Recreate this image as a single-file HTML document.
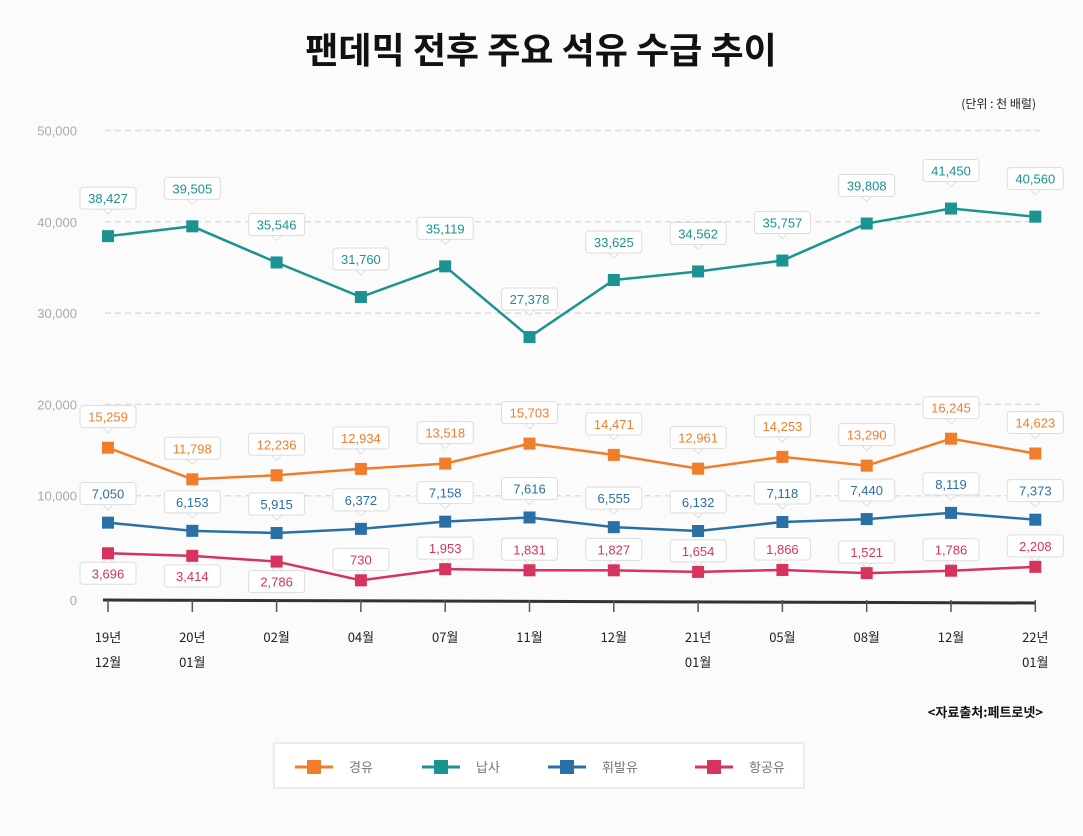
<!DOCTYPE html>
<html><head><meta charset="utf-8">
<style>
body{margin:0;background:#fbfbfb;font-family:"Liberation Sans","Noto Sans CJK KR",sans-serif;}
#wrap{position:relative;width:1083px;height:836px;overflow:hidden;background:#fbfbfb}
</style></head><body>
<div id="wrap">
<svg id="chart" width="1083" height="836" style="position:absolute;left:0;top:0">
<text x="541" y="63" text-anchor="middle" font-size="36" font-weight="bold" fill="#111" font-family="Noto Sans CJK KR, sans-serif">팬데믹 전후 주요 석유 수급 추이</text>
<text x="1036" y="108" text-anchor="end" font-size="12" fill="#222" font-family="Noto Sans CJK KR, sans-serif">(단위 : 천 배럴)</text>
<text x="1043" y="717" text-anchor="end" font-size="13" font-weight="bold" fill="#111" font-family="Noto Sans CJK KR, sans-serif">&lt;자료출처:페트로넷&gt;</text>
<g id="grid"></g><g id="labels"></g><g id="series"></g><g id="xaxis"></g>
<rect x="274" y="743" width="530" height="45" fill="#fff" stroke="#ddd"/>
<g id="legend"></g>
</svg>
</div>
<script>
const categories=[["19년","12월"],["20년","01월"],["02월"],["04월"],["07월"],["11월"],["12월"],["21년","01월"],["05월"],["08월"],["12월"],["22년","01월"]];
const seriesNames=["경유","납사","휘발유","항공유"];
const diesel=[15259,11798,12236,12934,13518,15703,14471,12961,14253,13290,16245,14623];
const naphtha=[38427,39505,35546,31760,35119,27378,33625,34562,35757,39808,41450,40560];
const gasoline=[7050,6153,5915,6372,7158,7616,6555,6132,7118,7440,8119,7373];
const jet=[3696,3414,2786,730,1953,1831,1827,1654,1866,1521,1786,2208];
const yTicks=[0,10000,20000,30000,40000,50000];
const jetBelow=[true,true,true,false,false,false,false,false,false,false,false,false];

const ns="http://www.w3.org/2000/svg";
const colors=["#f07d2a","#1a9391","#2a6fa6","#d6335f"];
const offs=[-31,-38,-29,-21];
const data=[diesel,naphtha,gasoline,jet];
const xs=i=>108+i*84.3;
const ys=v=>587-v*0.00913;
function mk(t,a,p){const e=document.createElementNS(ns,t);for(const k in a)e.setAttribute(k,a[k]);if(p)p.appendChild(e);return e;}
const grid=document.getElementById('grid');
yTicks.forEach(v=>{
 const y=ys(v);
 if(v>0){const l=mk('line',{x1:105,x2:1040,y1:y,y2:y,stroke:'#ddd','stroke-dasharray':'6 4','stroke-width':1.5},grid);
 
 }
 const t=mk('text',{x:77,y:(v?y+5:y+18),'text-anchor':'end','font-size':13,fill:'#aaa'},grid);
 t.textContent=v.toLocaleString('en-US');
 
 
});
const xa=document.getElementById('xaxis');
const ax=mk('line',{x1:103,x2:1036,y1:600,y2:603,stroke:'#333','stroke-width':3},xa);


categories.forEach((c,i)=>{
 const tk=mk('line',{x1:xs(i),x2:xs(i),y1:600,y2:612,stroke:'#555','stroke-width':1.5},xa);
 
 
 c.forEach((s,j)=>{const t=mk('text',{x:xs(i),y:642+j*25,'text-anchor':'middle','font-size':13,fill:'#222','font-family':'Noto Sans CJK KR, sans-serif'},xa);
 t.textContent=s;
 
 });
});
const sg=document.getElementById('series'),lg=document.getElementById('labels');
data.forEach((arr,s)=>{
 const pts=arr.map((v,i)=>xs(i)+','+ys(v)).join(' ');
 const pl=mk('polyline',{points:pts,fill:'none',stroke:colors[s],'stroke-width':2.5},sg);
 
 
 arr.forEach((v,i)=>{
  const x=xs(i),y=ys(v);
  const m=mk('rect',{x:x-6,y:y-6,width:12,height:12,fill:colors[s]},sg);
  
  
  const below=s===3&&jetBelow[i];
  const cy=below?y+20:y+offs[s];
  const g=mk('g',{},lg);
  
  
  mk('rect',{x:x-28,y:cy-11,width:56,height:22,rx:3,fill:'#fff',stroke:'#ddd'},g);
  const tip=below?`${x-5},${cy-11} ${x},${cy-16} ${x+5},${cy-11}`:`${x-5},${cy+11} ${x},${cy+16} ${x+5},${cy+11}`;
  mk('polygon',{points:tip,fill:'#fff',stroke:'#ddd'},g);
  const t=mk('text',{x:x,y:cy+5,'text-anchor':'middle','font-size':13,fill:colors[s]},g);
  t.textContent=v.toLocaleString('en-US');
 });
});
const leg=document.getElementById('legend');
const lx=[295,422,548,695];
seriesNames.forEach((n,i)=>{
 const g=mk('g',{},leg);
 
 
 mk('line',{x1:lx[i],x2:lx[i]+38,y1:767,y2:767,stroke:colors[i],'stroke-width':3},g);
 mk('rect',{x:lx[i]+12,y:760,width:14,height:14,fill:colors[i]},g);
 const t=mk('text',{x:lx[i]+54,y:772,'font-size':13,fill:'#777','font-family':'Noto Sans CJK KR, sans-serif'},g);
 t.textContent=n;
});
</script>
</body></html>
